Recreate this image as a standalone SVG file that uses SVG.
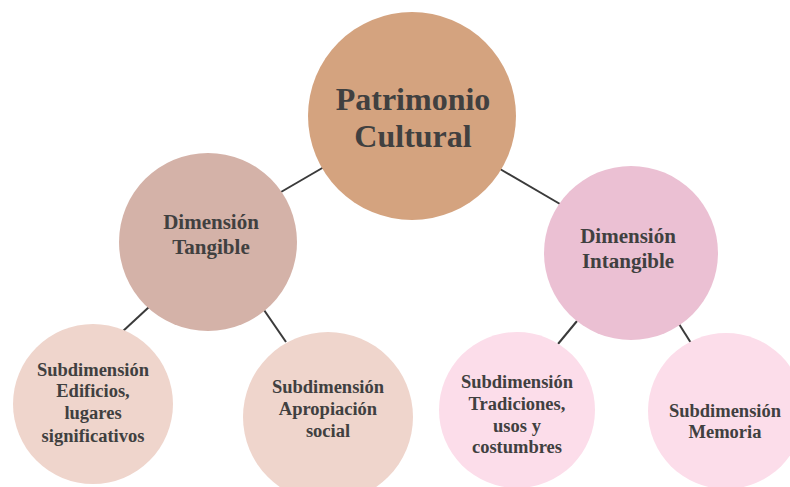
<svg xmlns="http://www.w3.org/2000/svg" width="790" height="487" viewBox="0 0 790 487">
<style>
.t{font-family:"Liberation Serif","Times New Roman",serif;font-weight:bold;fill:#404040;text-anchor:middle}
.c{stroke:#3a3a3a;stroke-width:2;fill:none}
</style>
<rect width="790" height="487" fill="#ffffff"/>
<g id="connectors">
<line class="c" x1="281" y1="192" x2="324" y2="167"/>
<line class="c" x1="500" y1="169" x2="560" y2="204"/>
<line class="c" x1="149" y1="307" x2="122" y2="332"/>
<line class="c" x1="264" y1="310" x2="286" y2="342"/>
<line class="c" x1="577" y1="321" x2="558" y2="344"/>
<line class="c" x1="679" y1="324" x2="691" y2="343"/>
</g>
<g id="patrimonio">
<circle cx="412" cy="116" r="104" fill="#D4A37F"/>
<text class="t" x="413" y="110" font-size="32">Patrimonio</text>
<text class="t" x="413" y="147" font-size="32">Cultural</text>
</g>
<g id="tangible">
<circle cx="208" cy="242" r="89" fill="#D4B2A8"/>
<text class="t" x="211" y="229" font-size="21">Dimensión</text>
<text class="t" x="211" y="254" font-size="21">Tangible</text>
</g>
<g id="intangible">
<circle cx="631" cy="253" r="87" fill="#EBC0D3"/>
<text class="t" x="628" y="243" font-size="21">Dimensión</text>
<text class="t" x="628" y="268" font-size="21">Intangible</text>
</g>
<g id="edificios">
<circle cx="93" cy="404" r="80" fill="#EFD5CC"/>
<text class="t" x="93" y="376" font-size="18.5">Subdimensión</text>
<text class="t" x="93" y="397" font-size="18.5">Edificios,</text>
<text class="t" x="93" y="419" font-size="18.5">lugares</text>
<text class="t" x="93" y="442" font-size="18.5">significativos</text>
</g>
<g id="apropiacion">
<circle cx="328" cy="417" r="85" fill="#EFD5CC"/>
<text class="t" x="328" y="393" font-size="18.5">Subdimensión</text>
<text class="t" x="328" y="415" font-size="18.5">Apropiación</text>
<text class="t" x="328" y="437" font-size="18.5">social</text>
</g>
<g id="tradiciones">
<circle cx="517" cy="410" r="78" fill="#FCDDEA"/>
<text class="t" x="517" y="388" font-size="18.5">Subdimensión</text>
<text class="t" x="517" y="410" font-size="18.5">Tradiciones,</text>
<text class="t" x="517" y="432" font-size="18.5">usos y</text>
<text class="t" x="517" y="453" font-size="18.5">costumbres</text>
</g>
<g id="memoria">
<circle cx="726" cy="411" r="78" fill="#FCDDEA"/>
<text class="t" x="725" y="417" font-size="18.5">Subdimensión</text>
<text class="t" x="725" y="438" font-size="18.5">Memoria</text>
</g>
</svg>
